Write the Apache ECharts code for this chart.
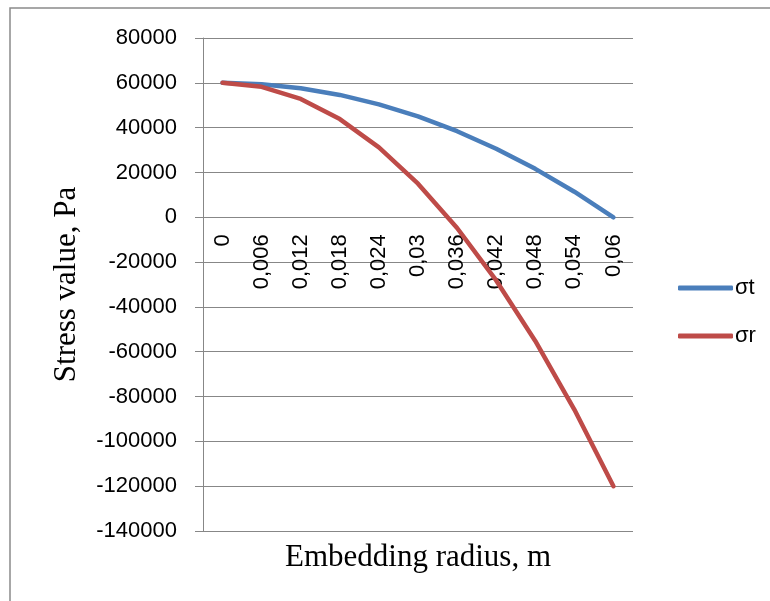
<!DOCTYPE html>
<html>
<head>
<meta charset="utf-8">
<script src="https://cdn.jsdelivr.net/npm/echarts@6/dist/echarts.min.js"></script>
<style>
html,body{margin:0;padding:0;background:#fff;}
#chart{width:770px;height:601px;}
</style>
</head>
<body>
<div id="chart"></div>
<script>
// Data
const radius = ['0', '0,006', '0,012', '0,018', '0,024', '0,03', '0,036', '0,042', '0,048', '0,054', '0,06'];
const sigmaT = [60000, 59400, 57600, 54600, 50400, 45000, 38400, 30600, 21600, 11400, 0];
const sigmaR = [60000, 58200, 52800, 43800, 31200, 15000, -4800, -28200, -55200, -85800, -120000];
const seriesNames = ['σt', 'σr'];
const xTitle = 'Embedding radius, m';
const yTitle = 'Stress value, Pa';
const yMin = -140000, yMax = 80000, yStep = 20000;

const chart = echarts.init(document.getElementById('chart'), null, {renderer: 'canvas'});
const sans = '"Liberation Sans", Arial, sans-serif';
const serif = '"Liberation Serif", "Times New Roman", serif';
const gridColor = '#878787';
const gridTop = 38, gridBottom = 70, H = 601;
const plotH = H - gridTop - gridBottom;
// move the category axis (line, labels, name) up to the zero line
const zeroShift = -plotH * (0 - yMin) / (yMax - yMin);

chart.setOption({
  animation: false,
  backgroundColor: '#ffffff',
  graphic: [{
    type: 'rect',
    shape: {x: 10, y: 8, width: 820, height: 700},
    style: {fill: 'none', stroke: '#8a8a8a', lineWidth: 1.5},
    silent: true,
    z: -10
  }],
  grid: {left: 203, right: 137, top: gridTop, bottom: gridBottom, containLabel: false, outerBoundsMode: 'none'},
  legend: {
    orient: 'vertical',
    left: 673,
    top: 272,
    icon: 'roundRect',
    itemWidth: 55,
    itemHeight: 5,
    itemGap: 26,
    textStyle: {fontFamily: sans, fontSize: 22, lineHeight: 22, color: '#000', padding: [0, 0, 0, -3]},
    data: seriesNames
  },
  xAxis: {
    type: 'category',
    position: 'bottom',
    offset: zeroShift,
    data: radius,
    boundaryGap: true,
    name: xTitle,
    nameLocation: 'middle',
    nameGap: 325,
    nameTextStyle: {fontFamily: serif, fontSize: 31, lineHeight: 31, color: '#000'},
    axisLine: {onZero: false, lineStyle: {color: gridColor, width: 1}},
    axisTick: {show: false},
    axisLabel: {interval: 0, rotate: 90, margin: 17, fontFamily: sans, fontSize: 22, color: '#000', hideOverlap: false},
    splitLine: {show: false}
  },
  yAxis: {
    type: 'value',
    min: yMin,
    max: yMax,
    interval: yStep,
    name: yTitle,
    nameLocation: 'middle',
    nameGap: 121,
    nameTextStyle: {fontFamily: serif, fontSize: 31, lineHeight: 31, color: '#000'},
    axisLine: {show: true, lineStyle: {color: gridColor, width: 1}},
    axisTick: {show: true, length: 8, lineStyle: {color: gridColor, width: 1}},
    axisLabel: {margin: 26, fontFamily: sans, fontSize: 22, color: '#000', showMinLabel: true, showMaxLabel: true, hideOverlap: false,
      formatter: function (v) { return String(v); }},
    splitLine: {show: true, lineStyle: {color: gridColor, width: 1}}
  },
  series: [
    {
      name: seriesNames[0],
      type: 'line',
      data: sigmaT,
      symbol: 'none',
      smooth: false,
      itemStyle: {color: '#4A7EBB'},
      lineStyle: {color: '#4A7EBB', width: 4.5, cap: 'round', join: 'round'}
    },
    {
      name: seriesNames[1],
      type: 'line',
      data: sigmaR,
      symbol: 'none',
      smooth: false,
      itemStyle: {color: '#BE4B48'},
      lineStyle: {color: '#BE4B48', width: 4.5, cap: 'round', join: 'round'}
    }
  ]
});
</script>
</body>
</html>
